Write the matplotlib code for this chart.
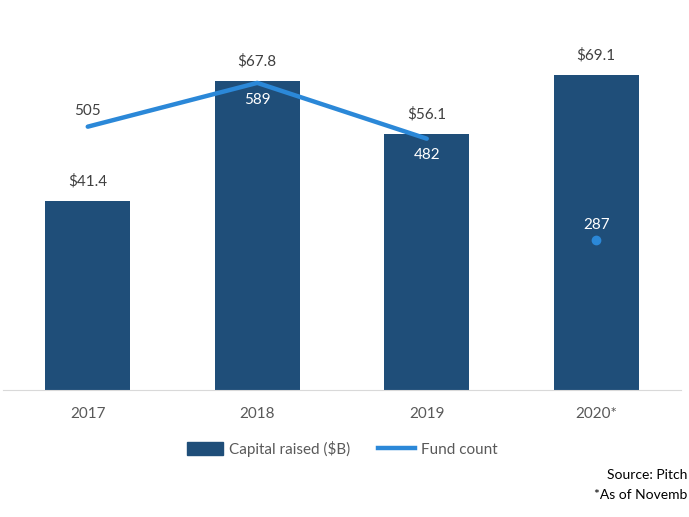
import matplotlib
matplotlib.use("Agg")
import matplotlib.pyplot as plt
from matplotlib.lines import Line2D
from matplotlib.patches import Patch

years = ["2017", "2018", "2019", "2020*"]
capital = [41.4, 67.8, 56.1, 69.1]
capital_labels = ["$41.4", "$67.8", "$56.1", "$69.1"]
fund_count = [505, 589, 482, 287]

plt.rcParams['font.family'] = ['Lato', 'DejaVu Sans']

BAR = "#1F4E79"
LINE = "#2B88D8"
TXT = "#404040"
FS = 11

fig = plt.figure(figsize=(6.89, 5.17), dpi=100)
ax = fig.add_axes([3/689, 127/517, 678/689, 365/517])
ax2 = ax.twinx()

x = list(range(len(years)))
ax.bar(x, capital, width=0.5, color=BAR, zorder=2)
ax.set_xlim(-0.5, 3.5)
ax.set_ylim(0, 80)

for xi, v, lab in zip(x, capital, capital_labels):
    ax.annotate(lab, (xi, v), xytext=(0, 9), textcoords="offset points",
                ha="center", va="bottom", fontsize=FS, color=TXT)

ax2.plot(x[:3], fund_count[:3], color=LINE, lw=3.2, solid_capstyle="round", zorder=3)
ax2.plot([x[3]], [fund_count[3]], "o", color=LINE, ms=6, zorder=3)
ax2.set_ylim(0, 700)

offsets = [(6, TXT), (-7, "white"), (-7, "white"), (6, "white")]
for xi, v, (dy, c) in zip(x, fund_count, offsets):
    ax2.annotate(str(v), (xi, v), xytext=(0, dy), textcoords="offset points",
                 ha="center", va="bottom" if dy > 0 else "top", fontsize=FS, color=c)

for a in (ax, ax2):
    for s in ("top", "left", "right"):
        a.spines[s].set_visible(False)
    a.set_yticks([])
ax.spines["bottom"].set_color("#D9D9D9")
ax2.spines["bottom"].set_visible(False)
ax.set_xticks(x)
ax.set_xticklabels(years, fontsize=FS, color="#595959")
ax.tick_params(axis="x", length=0, pad=12)

handles = [Patch(color=BAR, label="Capital raised ($B)"),
           Line2D([], [], color=LINE, lw=3.2, label="Fund count")]
fig.legend(handles=handles, loc="center", bbox_to_anchor=(342/689, 1 - 449/517),
           ncol=2, frameon=False, fontsize=FS, labelcolor="#595959",
           handlelength=2.4, handleheight=0.9, columnspacing=1.8, handletextpad=0.4)

fig.text(687/689, 1 - 475/517, "Source: Pitch", fontsize=10, color="#000000",
         ha="right", va="center")
fig.text(687/689, 1 - 495/517, "*As of Novemb", fontsize=10, color="#000000",
         ha="right", va="center")

fig.savefig("out.png", dpi=100)
